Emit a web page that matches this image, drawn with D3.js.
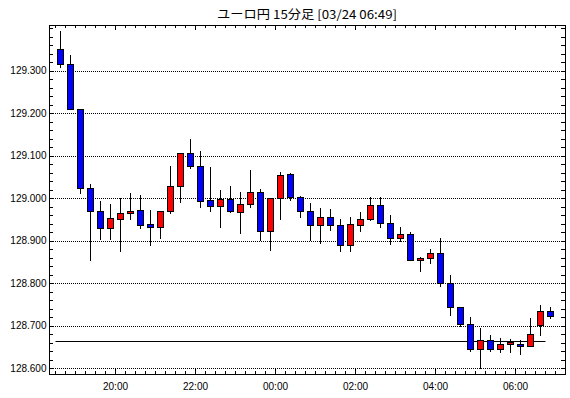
<!DOCTYPE html>
<html>
<head>
<meta charset="utf-8">
<script src="https://cdn.jsdelivr.net/npm/d3@7"></script>
<style>
  body { margin: 0; background: #fff; }
  svg { display: block; }
  .tick text { font-family: "Liberation Sans", Arial, sans-serif; font-size: 10px; fill: #000; }
  .axis line { stroke: #000; shape-rendering: crispEdges; }
</style>
</head>
<body>
<div id="chart"></div>
<script>
// ユーロ円 15分足
const times = ["03/23 18:30","03/23 18:45","03/23 19:00","03/23 19:15","03/23 19:30","03/23 19:45",
  "03/23 20:00","03/23 20:15","03/23 20:30","03/23 20:45","03/23 21:00","03/23 21:15","03/23 21:30","03/23 21:45",
  "03/23 22:00","03/23 22:15","03/23 22:30","03/23 22:45","03/23 23:00","03/23 23:15","03/23 23:30","03/23 23:45",
  "03/24 00:00","03/24 00:15","03/24 00:30","03/24 00:45","03/24 01:00","03/24 01:15","03/24 01:30","03/24 01:45",
  "03/24 02:00","03/24 02:15","03/24 02:30","03/24 02:45","03/24 03:00","03/24 03:15","03/24 03:30","03/24 03:45",
  "03/24 04:00","03/24 04:15","03/24 04:30","03/24 04:45","03/24 05:00","03/24 05:15","03/24 05:30","03/24 05:45",
  "03/24 06:00","03/24 06:15","03/24 06:30","03/24 06:45"]
const open = [129.351,129.316,129.210,129.024,128.970,128.930,128.951,128.964,128.971,128.938,128.932,128.970,129.029,129.106,
  129.076,128.996,128.982,128.998,128.968,128.986,129.015,128.923,129.000,129.057,129.003,128.970,128.936,128.956,128.937,128.889,
  128.937,128.951,128.984,128.942,128.906,128.916,128.855,128.859,128.871,128.800,128.744,128.704,128.645,128.667,128.645,128.657,
  128.657,128.652,128.702,128.733]
const high = [129.394,129.337,129.210,129.034,128.992,128.985,129.001,129.011,129.008,128.971,128.970,129.075,129.106,129.140,
  129.110,129.072,129.018,129.029,129.015,129.065,129.022,129.000,129.062,129.059,129.005,128.989,128.977,128.975,128.951,128.956,
  128.968,129.003,129.003,128.960,128.932,128.920,128.862,128.881,128.906,128.818,128.744,128.720,128.695,128.678,128.670,128.668,
  128.667,128.718,128.749,128.744]
const low = [129.308,129.210,129.012,128.855,128.904,128.904,128.875,128.951,128.929,128.889,128.906,128.965,128.990,129.070,
  128.978,128.969,128.931,128.967,128.918,128.978,128.900,128.878,128.950,128.995,128.956,128.900,128.895,128.924,128.875,128.875,
  128.922,128.948,128.931,128.891,128.899,128.855,128.828,128.847,128.793,128.724,128.699,128.639,128.600,128.639,128.637,128.637,
  128.633,128.652,128.678,128.718]
const close = [129.316,129.210,129.024,128.969,128.930,128.952,128.965,128.970,128.937,128.932,128.970,129.029,129.106,129.075,
  128.993,128.982,128.998,128.970,128.986,129.015,128.923,129.000,129.055,129.002,128.969,128.936,128.956,128.936,128.889,128.939,
  128.951,128.984,128.942,128.906,128.916,128.855,128.859,128.871,128.800,128.744,128.704,128.645,128.667,128.645,128.656,128.661,
  128.652,128.680,128.735,128.723]
const refLine = 128.663
const yLabels = [128.6, 128.7, 128.8, 128.9, 129.0, 129.1, 129.2, 129.3]
const xLabels = ["03/23 20:00","03/23 22:00","03/24 00:00","03/24 02:00","03/24 04:00","03/24 06:00"]
const title = "ユーロ円 15分足 [03/24 06:49]"

const W = 570, H = 398
const FRAME = { LEFT: 49, RIGHT: 565, TOP: 25, BOTTOM: 374 }

const parse = d3.timeParse("%m/%d %H:%M")
const data = times.map((t, i) => ({
  t: parse(t), o: open[i], h: high[i], l: low[i], c: close[i]
}))

const svg = d3.select("#chart").append("svg")
  .attr("width", W)
  .attr("height", H)

// Scales
const x = d3.scaleTime()
  .domain([parse("03/23 18:00"), parse("03/24 07:30")])
  .range([35, 575])
const y = d3.scaleLinear()
  .domain([128.6, 129.3])
  .range([368, 70.5])

const inFrameX = d => x(d) > FRAME.LEFT && x(d) < FRAME.RIGHT
const minorX = d3.timeMinute.every(15).range(parse("03/23 18:00"), parse("03/24 07:31")).filter(inFrameX)
const majorX = xLabels.map(parse)
const minorY = d3.range(0, 41).map(i => +(128.6 + i * 0.02).toFixed(2))
  .filter(v => y(v) > FRAME.TOP && y(v) < FRAME.BOTTOM)

// Title
svg.append("text")
  .attr("x", (FRAME.LEFT + FRAME.RIGHT) / 2)
  .attr("y", 19)
  .attr("text-anchor", "middle")
  .attr("font-family", "'Noto Sans CJK JP', sans-serif")
  .attr("font-size", "12px")
  .attr("textLength", 180)
  .attr("lengthAdjust", "spacingAndGlyphs")
  .text(title)

// Grid lines
svg.append("g")
  .selectAll("line")
  .data(yLabels)
  .join("line")
    .attr("x1", FRAME.LEFT)
    .attr("x2", FRAME.RIGHT)
    .attr("y1", d => y(d) + 0.5)
    .attr("y2", d => y(d) + 0.5)
    .attr("stroke", "#000")
    .attr("stroke-dasharray", "1,1")
    .attr("shape-rendering", "crispEdges")

// Axes (ticks point inward)
svg.append("g").attr("class", "axis")
  .attr("transform", `translate(0, ${FRAME.BOTTOM})`)
  .call(d3.axisBottom(x).tickValues(minorX).tickSize(-3).tickFormat(""))
svg.append("g").attr("class", "axis")
  .attr("transform", `translate(0, ${FRAME.BOTTOM})`)
  .call(d3.axisBottom(x).tickValues(majorX).tickSize(-5).tickPadding(8.5).tickFormat(d3.timeFormat("%H:%M")))
svg.append("g").attr("class", "axis")
  .attr("transform", `translate(0, ${FRAME.TOP})`)
  .call(d3.axisTop(x).tickValues(minorX).tickSize(-3).tickFormat(""))
svg.append("g").attr("class", "axis")
  .attr("transform", `translate(0, ${FRAME.TOP})`)
  .call(d3.axisTop(x).tickValues(majorX).tickSize(-5).tickFormat(""))
svg.append("g").attr("class", "axis")
  .attr("transform", `translate(${FRAME.LEFT}, 0)`)
  .call(d3.axisLeft(y).tickValues(minorY).tickSize(-4).tickFormat(""))
svg.append("g").attr("class", "axis")
  .attr("transform", `translate(${FRAME.LEFT}, 0)`)
  .call(d3.axisLeft(y).tickValues(yLabels).tickSize(0).tickPadding(2.5).tickFormat(d3.format(".3f")))
svg.append("g").attr("class", "axis")
  .attr("transform", `translate(${FRAME.RIGHT}, 0)`)
  .call(d3.axisRight(y).tickValues(minorY).tickSize(-4).tickFormat(""))
svg.selectAll(".axis .domain").remove()

// Frame
svg.append("rect")
  .attr("x", FRAME.LEFT + 0.5)
  .attr("y", FRAME.TOP + 0.5)
  .attr("width", FRAME.RIGHT - FRAME.LEFT)
  .attr("height", FRAME.BOTTOM - FRAME.TOP)
  .attr("fill", "none")
  .attr("stroke", "#000")

// Reference line
svg.append("line")
  .attr("x1", x(data[0].t) + 0.5)
  .attr("x2", x(data[data.length - 1].t) + 0.5)
  .attr("y1", Math.round(y(refLine)) + 0.5)
  .attr("y2", Math.round(y(refLine)) + 0.5)
  .attr("stroke", "#000")

// Candles
const cx = d => Math.round(x(d3.timeSecond.offset(d.t, 450))) + 0.5
const candles = svg.append("g")
  .selectAll("g")
  .data(data)
  .join("g")

candles.append("line")
  .attr("x1", cx)
  .attr("x2", cx)
  .attr("y1", d => Math.round(y(d.h)))
  .attr("y2", d => Math.round(y(d.l)) + 1)
  .attr("stroke", "#000")
  .attr("stroke-width", 1)

candles.append("rect")
  .attr("x", d => cx(d) - 3)
  .attr("width", 6)
  .attr("y", d => Math.round(y(Math.max(d.o, d.c))) + 0.5)
  .attr("height", d => Math.max(2, Math.round(y(Math.min(d.o, d.c))) - Math.round(y(Math.max(d.o, d.c)))))
  .attr("fill", d => d.c >= d.o ? "#ff0000" : "#0000ff")
  .attr("stroke", "#000")
  .attr("stroke-width", 1)
</script>
</body>
</html>
